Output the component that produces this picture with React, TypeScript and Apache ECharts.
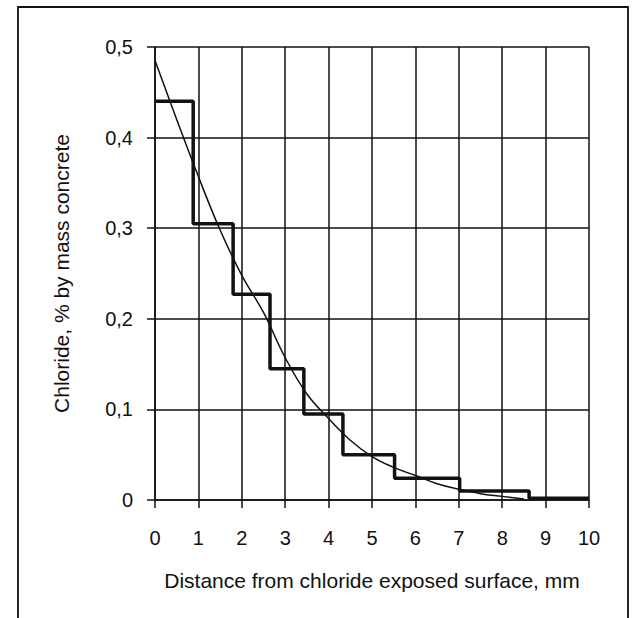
import React, { useEffect, useRef } from "react";
import * as echarts from "echarts";

const xTicks = [0, 1, 2, 3, 4, 5, 6, 7, 8, 9, 10];
const yTickLabels = ["0", "0,1", "0,2", "0,3", "0,4", "0,5"];

// measured step profile: segment start distance (mm) and chloride content
const stepX = [0, 0.88, 1.8, 2.65, 3.43, 4.33, 5.52, 7.02, 8.62, 10];
const stepY = [0.44, 0.305, 0.227, 0.145, 0.095, 0.05, 0.024, 0.01, 0.002, 0.002];

// fitted curve
const curveX = [0, 0.5, 1, 1.5, 2, 2.5, 3, 3.5, 4, 4.5, 5, 5.5, 6, 6.5, 7, 7.5, 8, 8.5];
const curveY = [0.485, 0.42, 0.357, 0.298, 0.248, 0.207, 0.157, 0.117, 0.09, 0.066, 0.048, 0.036, 0.027, 0.018, 0.012, 0.007, 0.004, 0.001];

const FONT = "Liberation Sans, Arial, sans-serif";
const INK = "#111";

export default function App() {
  const ref = useRef<HTMLDivElement>(null);
  useEffect(() => {
    document.body.style.margin = "0";
    if (!ref.current) return;
    const chart = echarts.init(ref.current, null, { renderer: "svg" });
    chart.setOption({
      animation: false,
      backgroundColor: "#fff",
      textStyle: { fontFamily: FONT },
      graphic: [
        {
          type: "rect",
          shape: { x: 18, y: 7, width: 610, height: 640 },
          style: { fill: "none", stroke: INK, lineWidth: 1.8 },
          silent: true,
        },
      ],
      grid: { left: 155, right: 49, top: 47, bottom: 118 },
      xAxis: {
        type: "value",
        min: 0,
        max: 10,
        interval: 1,
        name: "Distance from chloride exposed surface, mm",
        nameLocation: "middle",
        nameGap: 70,
        nameTextStyle: { fontSize: 21, color: INK, fontFamily: FONT },
        axisLine: { show: true, lineStyle: { color: INK, width: 1.5 } },
        axisTick: { show: true, length: 8, lineStyle: { color: INK, width: 1.5 } },
        axisLabel: {
          fontSize: 20,
          color: INK,
          margin: 28,
          fontFamily: FONT,
          formatter: (v: number) => String(xTicks[Math.round(v)] ?? v),
        },
        splitLine: { show: true, lineStyle: { color: INK, width: 1.5 } },
      },
      yAxis: {
        type: "value",
        min: 0,
        max: 0.5,
        interval: 0.1,
        name: "Chloride, % by mass concrete",
        nameLocation: "middle",
        nameRotate: 90,
        nameGap: 83,
        nameTextStyle: { fontSize: 21, color: INK, fontFamily: FONT },
        axisLine: { show: true, lineStyle: { color: INK, width: 1.5 } },
        axisTick: { show: true, length: 8, lineStyle: { color: INK, width: 1.5 } },
        axisLabel: {
          fontSize: 20,
          color: INK,
          margin: 22,
          fontFamily: FONT,
          formatter: (v: number) => yTickLabels[Math.round(v * 10)] ?? String(v),
        },
        splitLine: { show: true, lineStyle: { color: INK, width: 1.5 } },
      },
      series: [
        {
          type: "line",
          data: curveX.map((x, i) => [x, curveY[i]]),
          smooth: 0.4,
          showSymbol: false,
          lineStyle: { color: INK, width: 1.5 },
          z: 3,
        },
        {
          type: "line",
          step: "end",
          data: stepX.map((x, i) => [x, stepY[i]]),
          showSymbol: false,
          lineStyle: { color: INK, width: 3.5 },
          z: 4,
        },
      ],
    });
    return () => chart.dispose();
  }, []);
  return <div ref={ref} style={{ width: 638, height: 618 }} />;
}
